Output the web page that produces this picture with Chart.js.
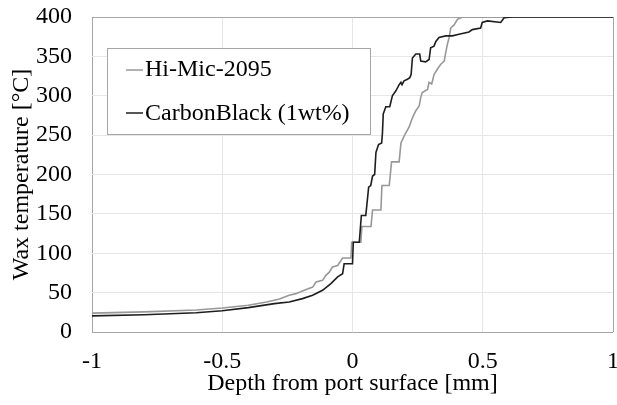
<!DOCTYPE html>
<html>
<head>
<meta charset="utf-8">
<script src="https://cdn.jsdelivr.net/npm/chart.js@4/dist/chart.umd.min.js"></script>
<style>
  html, body { margin: 0; padding: 0; background: #fff; }
  #wrap { width: 617px; height: 405px; }
</style>
</head>
<body>
<div id="wrap"><canvas id="chart" width="617" height="405"></canvas></div>
<script>
// Wax temperature vs depth from port surface, two waxes

const xTicks = [-1, -0.5, 0, 0.5, 1];
const yTicks = [0, 50, 100, 150, 200, 250, 300, 350, 400];

// Hi-Mic-2095 (gray)
const hiMicDepth = [-1, -0.8, -0.6, -0.5, -0.4, -0.33, -0.28, -0.243, -0.217, -0.185, -0.153, -0.14, -0.115, -0.102, -0.089, -0.077, -0.057, -0.038, -0.006, -0.003, 0.032, 0.036, 0.071, 0.077, 0.109, 0.113, 0.141, 0.15, 0.179, 0.186, 0.2, 0.217, 0.23, 0.243, 0.256, 0.262, 0.268, 0.288, 0.294, 0.304, 0.313, 0.326, 0.339, 0.352, 0.358, 0.364, 0.371, 0.377, 0.39, 0.403, 0.422, 1];
const hiMicTemp  = [24, 25.5, 28, 30.5, 34, 38, 42, 46.6, 48.7, 53, 57, 63.5, 65.6, 72, 76, 82.5, 84.5, 94, 94, 114, 114, 134, 134, 155, 155, 186, 186, 216, 216, 240, 250, 260, 272, 281, 287, 298, 304, 308, 317, 315, 327, 334, 340, 344, 355, 365, 374, 386, 390, 397, 400, 400];

// CarbonBlack (1wt%) (black)
const cbDepth = [-1, -0.8, -0.6, -0.5, -0.4, -0.3, -0.243, -0.192, -0.153, -0.115, -0.083, -0.057, -0.038, -0.032, 0, 0.003, 0.026, 0.034, 0.051, 0.062, 0.07, 0.077, 0.085, 0.09, 0.1, 0.112, 0.115, 0.118, 0.128, 0.143, 0.153, 0.166, 0.179, 0.186, 0.19, 0.198, 0.211, 0.22, 0.225, 0.23, 0.243, 0.258, 0.262, 0.281, 0.294, 0.3, 0.313, 0.32, 0.332, 0.358, 0.383, 0.409, 0.447, 0.46, 0.492, 0.498, 0.518, 0.569, 0.582, 0.613, 1];
const cbTemp  = [20.5, 22, 24.5, 27, 31, 36, 38, 42.4, 46.6, 53, 61.4, 70, 74, 86.7, 86.7, 114, 114, 148, 148, 184, 186, 198, 200, 228, 238, 240, 253, 277, 286, 286, 300, 306, 314, 317, 314, 319, 321, 323, 327, 348, 353, 353, 344, 343, 346, 361, 363, 369, 374, 376, 376, 378, 381, 384, 386, 393, 395, 393, 399, 400, 400];

const toPoints = (xs, ys) => xs.map((x, i) => ({ x: x, y: ys[i] }));

const FONT = "'Liberation Serif', 'Times New Roman', serif";
const GRID = '#e6e6e6';
const FRAME = '#a6a6a6';
const INK = '#000';

// legend box drawn inside the plot, like the original
const boxLegend = {
  id: 'boxLegend',
  afterDraw(chart) {
    const ctx = chart.ctx;
    ctx.save();
    ctx.fillStyle = '#fff';
    ctx.fillRect(107, 48, 263, 86);
    ctx.strokeStyle = FRAME;
    ctx.lineWidth = 1;
    ctx.strokeRect(107.5, 48.5, 263, 86);
    chart.data.datasets.forEach((ds, k) => {
      const y = 70 + k * 43;
      ctx.strokeStyle = ds.borderColor;
      ctx.lineWidth = 1.5;
      ctx.beginPath();
      ctx.moveTo(126, y);
      ctx.lineTo(143, y);
      ctx.stroke();
      ctx.fillStyle = INK;
      ctx.font = '24px ' + FONT;
      ctx.textBaseline = 'alphabetic';
      ctx.fillText(ds.label, 145, 76 + k * 44);
    });
    ctx.restore();
  }
};

new Chart(document.getElementById('chart'), {
  type: 'line',
  data: {
    datasets: [
      {
        label: 'Hi-Mic-2095',
        data: toPoints(hiMicDepth, hiMicTemp),
        borderColor: '#989898',
        borderWidth: 1.6,
        pointRadius: 0,
        fill: false,
        tension: 0,
        order: 1
      },
      {
        label: 'CarbonBlack (1wt%)',
        data: toPoints(cbDepth, cbTemp),
        borderColor: '#1e1e1e',
        borderWidth: 1.6,
        pointRadius: 0,
        fill: false,
        tension: 0,
        order: 0
      }
    ]
  },
  options: {
    responsive: false,
    animation: false,
    devicePixelRatio: 1,
    events: [],
    layout: { padding: { top: 17, right: 4, left: 0, bottom: 0 } },
    plugins: {
      legend: { display: false },
      tooltip: { enabled: false }
    },
    scales: {
      x: {
        type: 'linear',
        min: -1,
        max: 1,
        afterBuildTicks: s => { s.ticks = xTicks.map(v => ({ value: v })); },
        afterFit: s => { s.height = 73; s.paddingRight = 0; s.paddingLeft = 0; },
        ticks: {
          color: INK,
          font: { family: FONT, size: 24 },
          padding: 15,
          maxRotation: 0,
          callback: v => String(v)
        },
        grid: {
          color: c => (c.tick && (c.tick.value === -1 || c.tick.value === 1)) ? FRAME : GRID,
          lineWidth: 1,
          drawTicks: false
        },
        border: { display: false },
        title: {
          display: true,
          text: 'Depth from port surface [mm]',
          color: INK,
          font: { family: FONT, size: 24 },
          padding: { top: 0, bottom: 7 }
        }
      },
      y: {
        min: 0,
        max: 400,
        afterBuildTicks: s => { s.ticks = yTicks.map(v => ({ value: v })); },
        afterFit: s => { s.width = 92; s.paddingTop = 0; s.paddingBottom = 0; },
        ticks: {
          color: INK,
          font: { family: FONT, size: 24 },
          padding: 20,
          callback: v => String(v)
        },
        grid: {
          color: c => (c.tick && (c.tick.value === 0 || c.tick.value === 400)) ? FRAME : GRID,
          lineWidth: 1,
          drawTicks: false
        },
        border: { display: false },
        title: {
          display: true,
          text: 'Wax temperature [°C]',
          color: INK,
          font: { family: FONT, size: 24 },
          padding: { top: 7, bottom: 0 }
        }
      }
    }
  },
  plugins: [boxLegend]
});
</script>
</body>
</html>
